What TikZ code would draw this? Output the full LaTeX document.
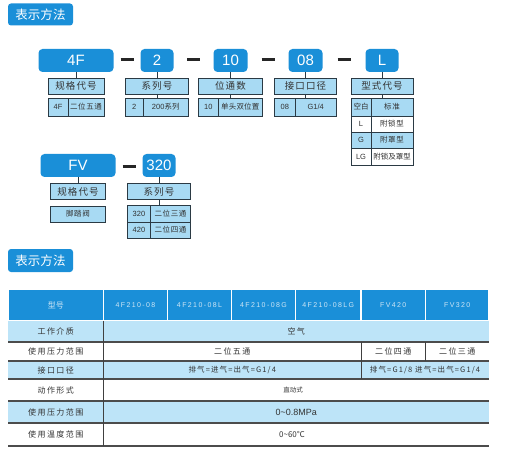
\documentclass[tikz,border=0pt]{standalone}
\usepackage{fontspec}
\setmainfont{Noto Sans CJK SC}
\newfontfamily\lat{Liberation Sans}
\usetikzlibrary{calc}
\definecolor{mainblue}{HTML}{1A8FD8}
\definecolor{lblue}{HTML}{A8DAF3}
\definecolor{tblue}{HTML}{BDE4F8}
\definecolor{edge}{HTML}{2B3A44}
\definecolor{txt}{HTML}{333333}
\definecolor{hdtxt}{HTML}{CFE6F5}
\tikzset{
 sz/.style 2 args={minimum width=#1pt, minimum height=#2pt},
 badge/.style={fill=mainblue, rounded corners=3pt, text=white, font=\fontsize{12.5}{13}\selectfont, inner sep=0pt, outer sep=0pt},
 bigbox/.style={fill=mainblue, rounded corners=4pt, text=white, font=\lat\fontsize{15}{15}\selectfont, inner sep=0pt, outer sep=0pt},
 labbox/.style={fill=lblue, draw=edge, line width=0.9pt, text=txt, font=\fontsize{9.5}{10}\selectfont\addfontfeatures{LetterSpace=12}, inner sep=0pt, outer sep=0pt},
 cellb/.style={fill=lblue, draw=edge, line width=0.9pt, text=txt, font=\fontsize{7.5}{8}\selectfont\addfontfeatures{LetterSpace=8}, inner sep=0pt, outer sep=0pt},
 cellw/.style={cellb, fill=white},
 link/.style={draw=edge, line width=0.9pt},
 dashbar/.style={draw=black!85, line width=3pt},
 hd/.style={fill=mainblue, draw=white, line width=1.2pt, text=hdtxt, font=\fontsize{8}{8}\selectfont, inner sep=0pt, outer sep=0pt},
 hdm/.style={hd, font=\lat\fontsize{7}{7}\selectfont\addfontfeatures{LetterSpace=20}},
 rowline/.style={draw=black!70, line width=1.1pt},
 colline/.style={draw=black!75, line width=1pt},
 rowlab/.style={text=txt, inner sep=0pt, font=\fontsize{8}{8}\selectfont\addfontfeatures{LetterSpace=18}},
 val/.style={text=txt, inner sep=0pt, font=\fontsize{8}{8}\selectfont\addfontfeatures{LetterSpace=18}},
 valsm/.style={text=txt, inner sep=0pt, font=\fontsize{7.5}{8}\selectfont\addfontfeatures{LetterSpace=15}},
}
\begin{document}
\begin{tikzpicture}[x=1pt,y=-1pt]
\useasboundingbox (0,0) rectangle (519,457);
% title badges
\node[badge, sz={65}{22}] (title1) at (40.5,14.5) {表示方法};
\node[badge, sz={65}{23}] (title2) at (40.5,260.5) {表示方法};
% ---- row 1 big boxes
\node[bigbox, sz={75}{23}] (b4F) at (76,60.5) {4F};
\node[bigbox, sz={33}{23}] (b2) at (157,60.5) {2};
\node[bigbox, sz={34}{23}] (b10) at (230.5,60.5) {10};
\node[bigbox, sz={34}{23}] (b08) at (305.5,60.5) {08};
\node[bigbox, sz={33}{23}] (bL) at (382,60.5) {L};
\foreach \a/\b in {b4F/b2, b2/b10, b10/b08, b08/bL}{
  \draw[dashbar] ($(\a.east)!.5!(\b.west)+(-6.5,-0.5)$) -- ($(\a.east)!.5!(\b.west)+(6.5,-0.5)$);
}
% labels
\node[labbox, sz={56}{16}] (l4F) at (76,86) {规格代号};
\node[labbox, sz={63}{16}] (l2) at (157,86) {系列号};
\node[labbox, sz={64}{16}] (l10) at (230.5,86) {位通数};
\node[labbox, sz={62}{16}] (l08) at (305.5,86) {接口口径};
\node[labbox, sz={62}{16}] (lL) at (382,86) {型式代号};
% sub tables
\node[cellb, sz={20}{18}] (t4Fa) at (58,107) {\lat 4F};
\node[cellb, sz={36}{18}] (t4Fb) at (86,107) {二位五通};
\node[cellb, sz={17.5}{18}] (t2a) at (134.25,107) {\lat 2};
\node[cellb, sz={45.5}{18}] (t2b) at (165.75,107) {\lat 200\normalfont\fontsize{7.5}{8}\selectfont 系列};
\node[cellb, sz={19.5}{18}] (t10a) at (208.25,107) {\lat 10};
\node[cellb, sz={44.5}{18}] (t10b) at (240.25,107) {\addfontfeatures{LetterSpace=2}单头双位置};
\node[cellb, sz={20.5}{18}] (t08a) at (284.75,107) {\lat 08};
\node[cellb, sz={41.5}{18}] (t08b) at (315.75,107) {\lat G1/4};
\node[cellb, sz={20}{18}] (tLa1) at (361,107) {\addfontfeatures{LetterSpace=0}空白};
\node[cellb, sz={42}{18}] (tLb1) at (392,107) {标准};
\node[cellw, sz={20}{16}] (tLa2) at (361,124) {\lat L};
\node[cellw, sz={42}{16}] (tLb2) at (392,124) {附锁型};
\node[cellb, sz={20}{16}] (tLa3) at (361,140) {\lat G};
\node[cellb, sz={42}{16}] (tLb3) at (392,140) {附罩型};
\node[cellw, sz={20}{17}] (tLa4) at (361,156.5) {\lat LG};
\node[cellw, sz={42}{17}] (tLb4) at (392,156.5) {\addfontfeatures{LetterSpace=0}附锁及罩型};
% links row 1
\draw[link] (b4F.south) -- (l4F.north);
\draw[link] (b2.south) -- (l2.north);
\draw[link] (b10.south) -- (l10.north);
\draw[link] (b08.south) -- (l08.north);
\draw[link] (bL.south) -- (lL.north);
\draw[link] (l2.south) -- (l2.south |- t2b.north);
\draw[link] (l10.south) -- (l10.south |- t10b.north);
\draw[link] (l08.south) -- (l08.south |- t08b.north);
\draw[link] (lL.south) -- (lL.south |- tLb1.north);
% ---- row 2
\node[bigbox, sz={75}{23}] (bFV) at (78,165.5) {FV};
\node[bigbox, sz={33}{23}] (b320) at (159,165.5) {320};
\draw[dashbar] ($(bFV.east)!.5!(b320.west)+(-6.5,1)$) -- ($(bFV.east)!.5!(b320.west)+(6.5,1)$);
\node[labbox, sz={55}{16}] (lFV) at (78,191.5) {规格代号};
\node[labbox, sz={63}{16}] (l320) at (159,191.5) {系列号};
\node[cellb, sz={55}{16}] (tFV) at (78,214) {脚踏阀};
\node[cellb, sz={23.5}{17}] (s1a) at (139,213.5) {\lat 320};
\node[cellb, sz={39.5}{17}] (s1b) at (170.5,213.5) {二位三通};
\node[cellb, sz={23.5}{16}] (s2a) at (139,230) {\lat 420};
\node[cellb, sz={39.5}{16}] (s2b) at (170.5,230) {二位四通};
\draw[link] (bFV.south) -- (lFV.north);
\draw[link] (b320.south) -- (l320.north);
\draw[link] (l320.south) -- (l320.south |- s1b.north);
% ---- table
\node[hd, sz={95.5}{32}] (h0) at (55.75,305) {型号};
\node[hdm, sz={64}{32}] (h1) at (135.5,305) {4F210-08};
\node[hdm, sz={64}{32}] (h2) at (199.5,305) {4F210-08L};
\node[hdm, sz={64}{32}] (h3) at (263.5,305) {4F210-08G};
\node[hdm, sz={65.5}{32}] (h4) at (328.25,305) {4F210-08LG};
\node[hdm, sz={64.5}{32}] (h5) at (393.25,305) {FV420};
\node[hdm, sz={63.5}{32}] (h6) at (457.25,305) {FV320};
\fill[tblue] (8,321) rectangle (489,342);
\fill[tblue] (8,361) rectangle (489,379);
\fill[tblue] (8,401) rectangle (489,423);
\foreach \yy in {342,361,379,401,423,446}{
  \draw[rowline] (8,\yy) -- (489,\yy);
}
\draw[colline] (103.5,321) -- (103.5,446);
\draw[colline] (361,342) -- (361,379);
\draw[colline] (425.5,342) -- (425.5,361);
% row labels
\node[rowlab] (r1) at (55.75,331.5) {工作介质};
\node[rowlab] (r2) at (55.75,351.5) {使用压力范围};
\node[rowlab] (r3) at (55.75,370) {接口口径};
\node[rowlab] (r4) at (55.75,390) {动作形式};
\node[rowlab] (r5) at (55.75,412) {使用压力范围};
\node[rowlab] (r6) at (55.75,434.5) {使用温度范围};
% values
\node[val] (v1) at (296.25,331.5) {空气};
\node[val] (v2a) at (232.25,351.5) {二位五通};
\node[val] (v2b) at (393.25,351.5) {二位四通};
\node[val] (v2c) at (457.25,351.5) {二位三通};
\node[valsm] (v3a) at (232.25,370) {排气=进气=出气=G1/4};
\node[valsm] (v3b) at (425,370) {排气=G1/8 进气=出气=G1/4};
\node[text=txt, inner sep=0pt, font=\fontsize{6.5}{7}\selectfont] (v4) at (293,390) {直动式};
\node[text=txt, inner sep=0pt, font=\lat\fontsize{9}{9}\selectfont] (v5) at (296.25,412) {0\textasciitilde0.8MPa};
\node[text=txt, inner sep=0pt, font=\fontsize{8}{8}\selectfont] (v6) at (292,434.5) {0\textasciitilde60℃};
\end{tikzpicture}
\end{document}
